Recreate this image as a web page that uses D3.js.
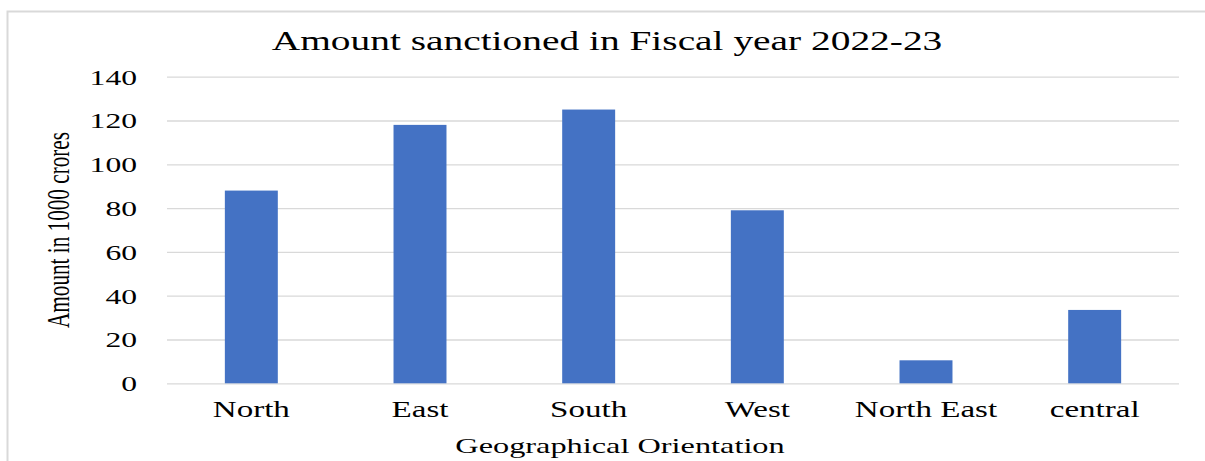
<!DOCTYPE html>
<html>
<head>
<meta charset="utf-8">
<script src="https://cdn.jsdelivr.net/npm/d3@7"></script>
<style>
  html, body { margin: 0; padding: 0; background: #fff; }
  svg { display: block; }
  text { font-family: "Liberation Serif", "Times New Roman", serif; fill: #000; }
</style>
</head>
<body>
<script>
// Amount sanctioned per region, fiscal year 2022-23 (in 1000 crores)
const regions = ["North", "East", "South", "West", "North East", "central"];
const amounts = [88, 118, 125, 79, 10.5, 33.5];
const yTicks = [0, 20, 40, 60, 80, 100, 120, 140];

const chartTitle = "Amount sanctioned in Fiscal year 2022-23";
const xTitle = "Geographical Orientation";
const yTitle = "Amount in 1000 crores";

const W = 1205, H = 461;
const plot = { left: 167, right: 1179, top: 76.7, bottom: 383.3 };
const sx = 1.47; // horizontal stretch of the typeface

const svg = d3.select("body").append("svg").attr("width", W).attr("height", H);

// chart area frame
svg.append("path")
  .attr("d", `M7.5,${H + 2}V11.5H${W + 2}`)
  .attr("fill", "none").attr("stroke", "#d9d9d9").attr("stroke-width", 2);

const x = d3.scaleBand().domain(regions).range([plot.left, plot.right]).paddingInner(0.686).paddingOuter(0.343);
const y = d3.scaleLinear().domain([0, 140]).range([plot.bottom, plot.top]);

// value axis with gridlines
const yAxis = svg.append("g")
  .attr("transform", `translate(${plot.left},0)`)
  .call(d3.axisLeft(y).tickValues(yTicks).tickSize(-(plot.right - plot.left)).tickPadding(0));
yAxis.select(".domain").remove();
yAxis.selectAll(".tick line").attr("stroke", "#d9d9d9").attr("stroke-width", 1.3);
yAxis.selectAll(".tick text")
  .attr("x", null).attr("dy", "0.34em")
  .attr("transform", `translate(-30,0) scale(${sx},1)`)
  .attr("text-anchor", "end")
  .style("font-family", "'Liberation Serif', serif")
  .style("font-size", "21.5px");

// bars
svg.append("g").selectAll("rect")
  .data(amounts)
  .join("rect")
  .attr("x", (d, i) => x(regions[i]))
  .attr("y", d => y(d))
  .attr("width", x.bandwidth())
  .attr("height", d => y(0) - y(d))
  .attr("fill", "#4472C4");

// category axis
const xAxis = svg.append("g")
  .attr("transform", `translate(0,${plot.bottom})`)
  .call(d3.axisBottom(x).tickSize(0).tickPadding(0));
xAxis.select(".domain").remove();
xAxis.selectAll(".tick text")
  .attr("y", null).attr("dy", null)
  .attr("transform", `translate(0,33.4) scale(${sx},1)`)
  .style("font-family", "'Liberation Serif', serif")
  .style("font-size", "22.5px");

// chart title
svg.append("text")
  .attr("transform", `translate(607,49.5) scale(${sx},1)`)
  .attr("text-anchor", "middle")
  .style("font-size", "26.8px")
  .text(chartTitle);

// axis titles
svg.append("text")
  .attr("transform", `translate(620,453) scale(${sx},1)`)
  .attr("text-anchor", "middle")
  .style("font-size", "22px")
  .text(xTitle);

svg.append("text")
  .attr("transform", `translate(69,230) scale(${sx},1) rotate(-90)`)
  .attr("text-anchor", "middle")
  .style("font-size", "21.2px")
  .text(yTitle);
</script>
</body>
</html>
